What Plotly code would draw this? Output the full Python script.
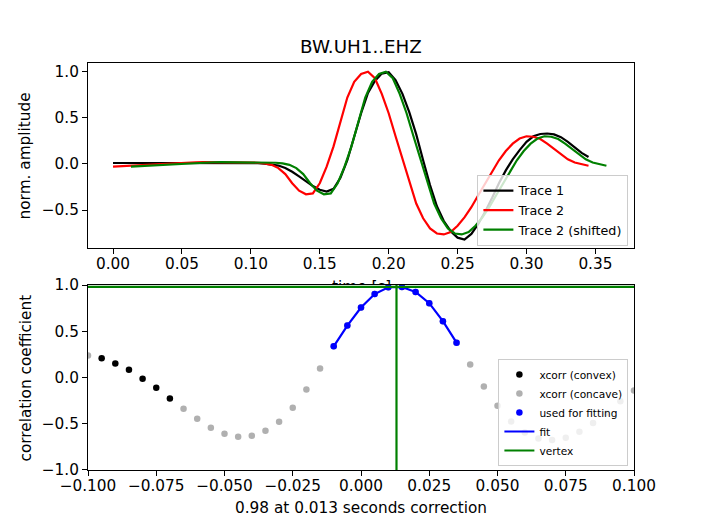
import plotly.graph_objects as go

# ---------------- data: top panel (normalised traces) ----------------
time_s = [0.000, 0.005, 0.010, 0.015, 0.020, 0.025, 0.030, 0.035, 0.040, 0.045,
          0.050, 0.055, 0.060, 0.065, 0.070, 0.075, 0.080, 0.085, 0.090, 0.095,
          0.100, 0.105, 0.110, 0.115, 0.120, 0.125, 0.130, 0.135, 0.140, 0.145,
          0.150, 0.155, 0.160, 0.165, 0.170, 0.175, 0.180, 0.185, 0.190, 0.195,
          0.200, 0.205, 0.210, 0.215, 0.220, 0.225, 0.230, 0.235, 0.240, 0.245,
          0.250, 0.255, 0.260, 0.265, 0.270, 0.275, 0.280, 0.285, 0.290, 0.295,
          0.300, 0.305, 0.310, 0.315, 0.320, 0.325, 0.330, 0.335, 0.340, 0.345]

trace1 = [0.010, 0.010, 0.010, 0.011, 0.011, 0.012, 0.012, 0.013, 0.013, 0.013,
          0.014, 0.014, 0.014, 0.014, 0.014, 0.014, 0.013, 0.013, 0.012, 0.011,
          0.010, 0.008, 0.004, -0.004, -0.018, -0.045, -0.085, -0.135, -0.190, -0.240,
          -0.280, -0.300, -0.270, -0.150, 0.040, 0.290, 0.550, 0.770, 0.900, 0.980,
          0.995, 0.910, 0.760, 0.560, 0.320, 0.040, -0.230, -0.460, -0.620, -0.730,
          -0.800, -0.820, -0.760, -0.650, -0.520, -0.370, -0.210, -0.070, 0.050, 0.150,
          0.240, 0.300, 0.325, 0.330, 0.320, 0.290, 0.240, 0.180, 0.120, 0.075]

trace2 = [-0.030, -0.026, -0.021, -0.015, -0.010, -0.005, 0.000, 0.005, 0.009, 0.012,
          0.015, 0.017, 0.018, 0.019, 0.019, 0.019, 0.019, 0.018, 0.018, 0.017,
          0.016, 0.013, 0.006, -0.010, -0.045, -0.110, -0.210, -0.290, -0.330, -0.320,
          -0.210, -0.030, 0.190, 0.460, 0.720, 0.890, 0.975, 1.000, 0.930, 0.760,
          0.550, 0.300, 0.050, -0.200, -0.430, -0.590, -0.700, -0.755, -0.765, -0.740,
          -0.670, -0.580, -0.470, -0.340, -0.210, -0.080, 0.040, 0.140, 0.220, 0.275,
          0.300, 0.295, 0.270, 0.220, 0.160, 0.100, 0.050, 0.015, -0.005, -0.020]

shift_s = 0.013

# ---------------- data: bottom panel (cross correlation) ----------------
lags = [-0.100, -0.095, -0.090, -0.085, -0.080, -0.075, -0.070, -0.065, -0.060, -0.055,
        -0.050, -0.045, -0.040, -0.035, -0.030, -0.025, -0.020, -0.015, -0.010, -0.005,
        0.000, 0.005, 0.010, 0.015, 0.020, 0.025, 0.030, 0.035, 0.040, 0.045,
        0.050, 0.055, 0.060, 0.065, 0.070, 0.075, 0.080, 0.085, 0.090, 0.095, 0.100]

xcorr = [0.239, 0.207, 0.152, 0.083, -0.014, -0.112, -0.228, -0.337, -0.446, -0.543,
         -0.609, -0.641, -0.630, -0.576, -0.478, -0.326, -0.130, 0.098, 0.337, 0.562,
         0.757, 0.902, 0.976, 0.978, 0.925, 0.804, 0.609, 0.377, 0.141, -0.098,
         -0.304, -0.475, -0.594, -0.660, -0.675, -0.650, -0.587, -0.493, -0.384, -0.257, -0.141]

convex_idx = [1, 2, 3, 4, 5, 6]
fit_idx = [18, 19, 20, 21, 22, 23, 24, 25, 26, 27]
fit_vals = [0.337, 0.562, 0.757, 0.902, 0.976, 0.978, 0.925, 0.804, 0.609, 0.377]

vertex_lag = 0.013
vertex_cc = 0.98

x1_range = [-0.01815, 0.378]
y1_range = [-0.912, 1.095]
x2_range = [-0.1, 0.1]
y2_range = [-1.0, 1.0]

# ---------------- figure ----------------
FONT = "DejaVu Sans"
W, H = 704, 528
ml, mr, mt, mb = 88, 70.4, 63.4, 58
plot_h = H - mt - mb
plot_w = W - ml - mr

fig = go.Figure()

# top panel
fig.add_trace(go.Scatter(x=time_s, y=trace1, mode="lines", name="Trace 1",
                         line=dict(color="black", width=2.2), xaxis="x", yaxis="y", legend="legend"))
fig.add_trace(go.Scatter(x=time_s, y=trace2, mode="lines", name="Trace 2",
                         line=dict(color="red", width=2.2), xaxis="x", yaxis="y", legend="legend"))
fig.add_trace(go.Scatter(x=[t + shift_s for t in time_s], y=trace2, mode="lines",
                         name="Trace 2 (shifted)",
                         line=dict(color="green", width=2.2), xaxis="x", yaxis="y", legend="legend"))

# bottom panel
gray_idx = [i for i in range(len(lags)) if i not in convex_idx]
fig.add_trace(go.Scatter(x=[lags[i] for i in convex_idx], y=[xcorr[i] for i in convex_idx],
                         mode="markers", name="xcorr (convex)",
                         marker=dict(color="black", size=6.5), xaxis="x2", yaxis="y2", legend="legend2"))
fig.add_trace(go.Scatter(x=[lags[i] for i in gray_idx], y=[xcorr[i] for i in gray_idx],
                         mode="markers", name="xcorr (concave)",
                         marker=dict(color="#b0b0b0", size=6.5), xaxis="x2", yaxis="y2", legend="legend2"))
fig.add_trace(go.Scatter(x=[lags[i] for i in fit_idx], y=[xcorr[i] for i in fit_idx],
                         mode="markers", name="used for fitting",
                         marker=dict(color="blue", size=6.5), xaxis="x2", yaxis="y2", legend="legend2"))
fig.add_trace(go.Scatter(x=[lags[i] for i in fit_idx], y=fit_vals,
                         mode="lines", name="fit",
                         line=dict(color="blue", width=2.2), xaxis="x2", yaxis="y2", legend="legend2"))
fig.add_trace(go.Scatter(x=[vertex_lag, vertex_lag, None, x2_range[0], x2_range[1]],
                         y=[y2_range[0], y2_range[1], None, vertex_cc, vertex_cc],
                         mode="lines", name="vertex",
                         line=dict(color="green", width=2.2), xaxis="x2", yaxis="y2", legend="legend2"))

axis_common = dict(showline=True, linecolor="black", linewidth=1.1, mirror=True,
                   ticks="outside", ticklen=5, tickwidth=1.1, tickcolor="black",
                   showgrid=False, zeroline=False,
                   tickfont=dict(family=FONT, size=15.3, color="black"))

top_dom = [1 - 184.8 / plot_h, 1]
bot_dom = [0, 184.8 / plot_h]

fig.update_layout(
    width=W, height=H,
    margin=dict(l=ml, r=mr, t=mt, b=mb, pad=0, autoexpand=False),
    paper_bgcolor="white", plot_bgcolor="white",
    font=dict(family=FONT, size=15.3, color="black"),
    xaxis=dict(domain=[0, 1], anchor="y", range=x1_range, tick0=0, dtick=0.05,
               tickformat=".2f", ticklabelstandoff=-3, **axis_common),
    yaxis=dict(domain=top_dom, anchor="x", range=y1_range, tick0=0, dtick=0.5,
               tickformat=".1f", **axis_common),
    xaxis2=dict(domain=[0, 1], anchor="y2", range=x2_range, tick0=0, dtick=0.025,
                tickformat=".3f", ticklabelstandoff=-3, **axis_common),
    yaxis2=dict(domain=bot_dom, anchor="x2", range=y2_range, tick0=0, dtick=0.5,
                tickformat=".1f", **axis_common),
    legend=dict(x=(628 - ml) / plot_w, y=(H - mb - 246) / plot_h,
                xanchor="right", yanchor="bottom",
                bgcolor="rgba(255,255,255,0.8)", bordercolor="#cccccc", borderwidth=1,
                font=dict(family=FONT, size=12.7, color="black"), itemwidth=30,
                tracegroupgap=0),
    legend2=dict(x=(628 - ml) / plot_w, y=(H - mb - 466) / plot_h,
                 xanchor="right", yanchor="bottom",
                 bgcolor="rgba(255,255,255,0.8)", bordercolor="#cccccc", borderwidth=1,
                 font=dict(family=FONT, size=10.6, color="black"), itemwidth=30,
                 tracegroupgap=0),
    showlegend=True,
)

def py(px):
    return (H - mb - px) / plot_h

def px_x(px):
    return (px - ml) / plot_w

annotations = [
    dict(text="BW.UH1..EHZ", x=0.5, y=py(47), xref="paper", yref="paper",
         xanchor="center", yanchor="middle", showarrow=False,
         font=dict(family=FONT, size=18.3, color="black")),
    # x label of the top panel: only its top edge peeks out above the lower panel
    dict(text="time [s]", x=0.5, y=bot_dom[1], xref="paper", yref="paper",
         xanchor="center", yanchor="bottom", showarrow=False,
         height=6, valign="top", borderpad=0,
         font=dict(family=FONT, size=15.3, color="black")),
    dict(text="norm. amplitude", x=px_x(26), y=py(155.8), xref="paper", yref="paper",
         xanchor="center", yanchor="middle", textangle=-90, showarrow=False,
         font=dict(family=FONT, size=15.3, color="black")),
    dict(text="correlation coefficient", x=px_x(26), y=py(377.6), xref="paper", yref="paper",
         xanchor="center", yanchor="middle", textangle=-90, showarrow=False,
         font=dict(family=FONT, size=15.3, color="black")),
    dict(text="0.98 at 0.013 seconds correction", x=0.5, y=py(508), xref="paper", yref="paper",
         xanchor="center", yanchor="middle", showarrow=False,
         font=dict(family=FONT, size=15.3, color="black")),
]
fig.update_layout(annotations=annotations)

fig.write_html("out.html", config={"displayModeBar": False},
               post_script="document.body.style.margin='0';")
